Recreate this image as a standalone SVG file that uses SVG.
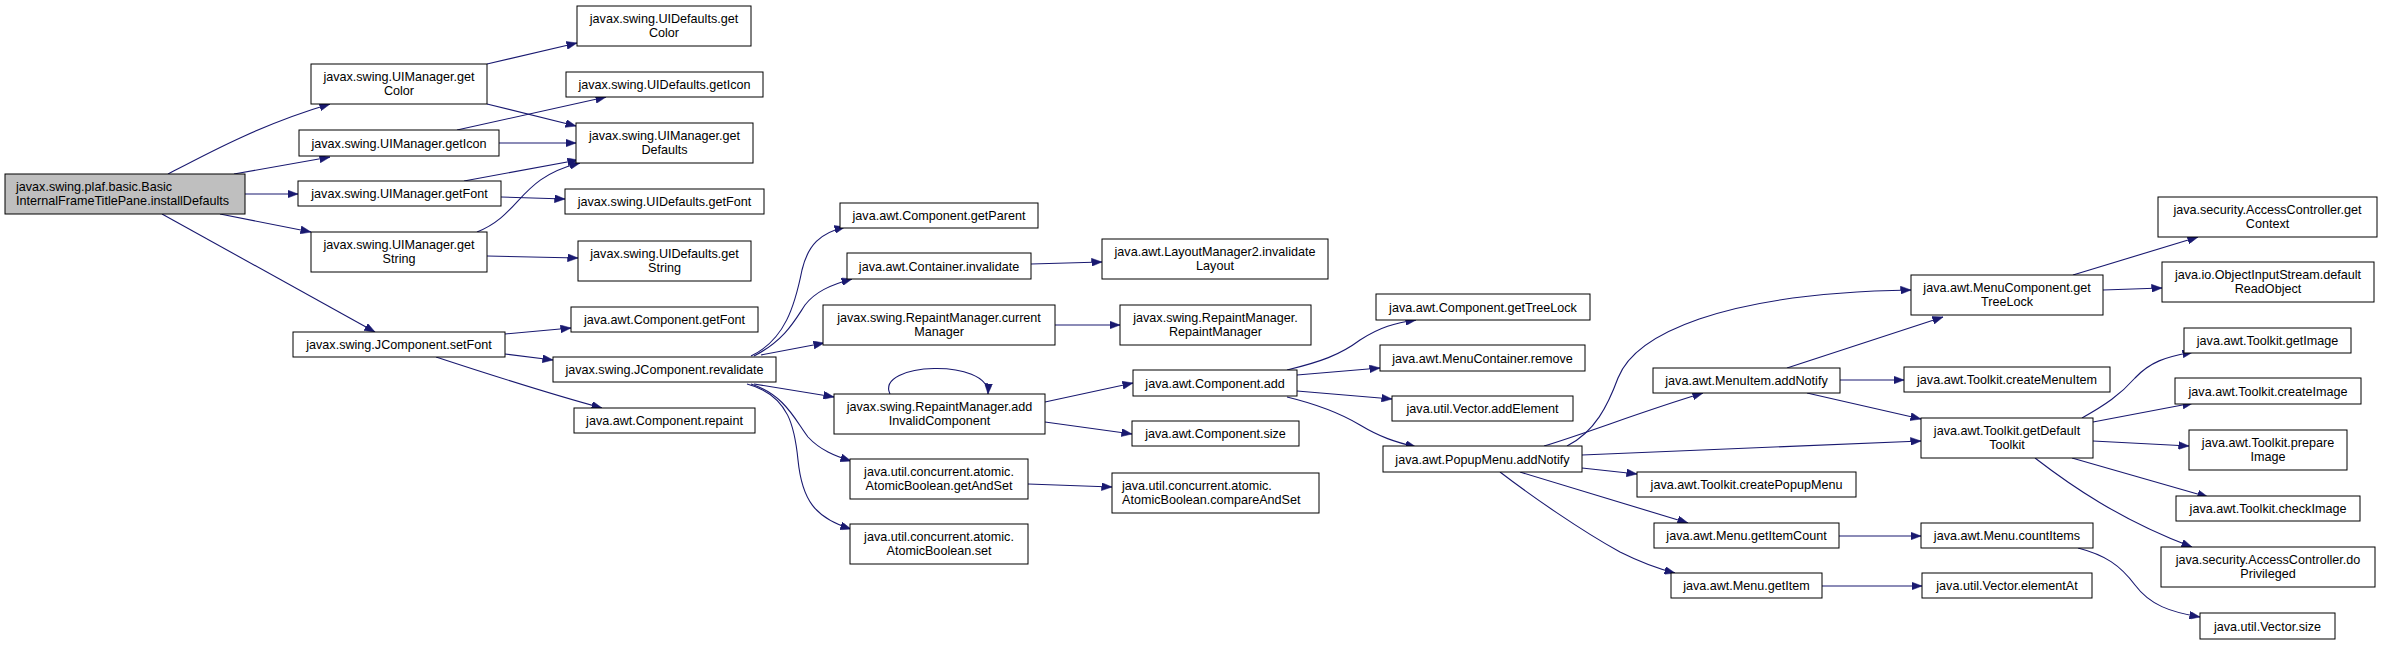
<svg xmlns="http://www.w3.org/2000/svg" width="2383" height="645" viewBox="0 0 2383 645">
<style>
  .n rect { fill: #ffffff; stroke: #000000; stroke-width: 1; }
  .root rect { fill: #bfbfbf; }
  text { font-family: "Liberation Sans", Arial, sans-serif; font-size: 12.6px; fill: #000000; }
  .c { text-anchor: middle; }
  .l { text-anchor: start; }
  #edges path { fill: none; stroke: #191970; stroke-width: 1.1; marker-end: url(#arr); }
</style>
<defs>
  <marker id="arr" markerUnits="userSpaceOnUse" markerWidth="11" markerHeight="8" refX="10.5" refY="4" orient="auto">
    <path d="M0,0 L10.5,4 L0,8 z" fill="#191970" stroke="#191970" stroke-width="0.5"/>
  </marker>
</defs>
<rect x="0" y="0" width="2383" height="645" fill="#ffffff"/>

<g id="edges">
  <path d="M168,174 C210,152 262,124 330,104"/>
  <path d="M234,174 L330,157"/>
  <path d="M245,194 L298,194"/>
  <path d="M220,214 L311,232"/>
  <path d="M162,214 L375,332"/>
  <path d="M487,64 L577,43"/>
  <path d="M487,104 L576,126"/>
  <path d="M457,130 L606,97"/>
  <path d="M499,143 L576,143"/>
  <path d="M464,181 L578,160"/>
  <path d="M501,197 L565,199"/>
  <path d="M477,232 C522,214 518,178 580,163"/>
  <path d="M487,256 L578,258"/>
  <path d="M505,334 L571,328"/>
  <path d="M505,354 L553,360"/>
  <path d="M436,357 C500,378 550,394 602,408"/>
  <path d="M751,356 C785,340 795,305 802,270 C808,245 820,233 845,227"/>
  <path d="M754,356 C785,340 795,320 805,305 C815,292 830,285 852,279"/>
  <path d="M761,355 L824,343"/>
  <path d="M754,384 L834,397"/>
  <path d="M751,384 C785,395 795,420 808,437 C820,450 835,456 851,461"/>
  <path d="M747,384 C790,395 795,430 798,460 C802,500 815,518 851,529"/>
  <path d="M1031,264 L1102,262"/>
  <path d="M1055,325 L1120,325"/>
  <path d="M890,394 C875,362 990,358 988,394"/>
  <path d="M1045,402 L1133,383"/>
  <path d="M1045,422 L1132,434"/>
  <path d="M1028,484 L1112,487"/>
  <path d="M1287,370 C1320,362 1340,355 1360,340 C1380,327 1395,323 1416,320"/>
  <path d="M1297,375 L1380,368"/>
  <path d="M1297,391 L1392,399"/>
  <path d="M1287,397 C1320,405 1340,413 1360,425 C1380,437 1395,442 1416,447"/>
  <path d="M1567,446 C1595,432 1608,405 1618,378 C1635,335 1720,293 1911,290"/>
  <path d="M1544,446 C1590,432 1640,412 1703,393"/>
  <path d="M1582,455 L1921,441"/>
  <path d="M1582,468 L1637,474"/>
  <path d="M1520,472 L1688,523"/>
  <path d="M1500,472 C1530,495 1580,530 1620,552 C1640,562 1655,568 1675,573"/>
  <path d="M1787,368 L1943,317"/>
  <path d="M1840,380 L1904,380"/>
  <path d="M1807,393 L1921,419"/>
  <path d="M2073,275 L2198,237"/>
  <path d="M2103,290 L2162,288"/>
  <path d="M2082,418 C2105,405 2120,395 2135,378 C2150,362 2165,357 2193,352"/>
  <path d="M2093,422 L2193,403"/>
  <path d="M2093,441 L2189,446"/>
  <path d="M2072,458 L2208,497"/>
  <path d="M2035,458 C2070,485 2120,520 2192,547"/>
  <path d="M2078,548 C2105,555 2120,565 2135,585 C2150,605 2170,612 2200,617"/>
  <path d="M1839,536 L1921,536"/>
  <path d="M1822,586 L1922,586"/>
</g>

<g id="n_root" class="n root"><rect x="5" y="174" width="240" height="40"/><text class="l" x="16" y="190.5">javax.swing.plaf.basic.Basic</text><text class="l" x="16" y="205">InternalFrameTitlePane.installDefaults</text></g>
<g id="n_uim_getColor" class="n"><rect x="311" y="64" width="176" height="40"/><text class="c" x="399" y="80.5">javax.swing.UIManager.get</text><text class="c" x="399" y="95">Color</text></g>
<g id="n_uim_getIcon" class="n"><rect x="299" y="130" width="200" height="26"/><text class="c" x="399" y="147.5">javax.swing.UIManager.getIcon</text></g>
<g id="n_uim_getFont" class="n"><rect x="298" y="181" width="203" height="25"/><text class="c" x="399.5" y="198">javax.swing.UIManager.getFont</text></g>
<g id="n_uim_getString" class="n"><rect x="311" y="232" width="176" height="40"/><text class="c" x="399" y="248.5">javax.swing.UIManager.get</text><text class="c" x="399" y="263">String</text></g>
<g id="n_jc_setFont" class="n"><rect x="293" y="332" width="212" height="25"/><text class="c" x="399" y="349">javax.swing.JComponent.setFont</text></g>
<g id="n_uid_getColor" class="n"><rect x="577" y="6" width="174" height="40"/><text class="c" x="664" y="22.5">javax.swing.UIDefaults.get</text><text class="c" x="664" y="37">Color</text></g>
<g id="n_uid_getIcon" class="n"><rect x="566" y="72" width="197" height="25"/><text class="c" x="664.5" y="89">javax.swing.UIDefaults.getIcon</text></g>
<g id="n_uim_getDefaults" class="n"><rect x="576" y="123" width="177" height="40"/><text class="c" x="664.5" y="139.5">javax.swing.UIManager.get</text><text class="c" x="664.5" y="154">Defaults</text></g>
<g id="n_uid_getFont" class="n"><rect x="565" y="189" width="199" height="25"/><text class="c" x="664.5" y="206">javax.swing.UIDefaults.getFont</text></g>
<g id="n_uid_getString" class="n"><rect x="578" y="241" width="173" height="40"/><text class="c" x="664.5" y="257.5">javax.swing.UIDefaults.get</text><text class="c" x="664.5" y="272">String</text></g>
<g id="n_c_getFont" class="n"><rect x="571" y="307" width="187" height="25"/><text class="c" x="664.5" y="324">java.awt.Component.getFont</text></g>
<g id="n_jc_revalidate" class="n"><rect x="553" y="357" width="223" height="25"/><text class="c" x="664.5" y="374">javax.swing.JComponent.revalidate</text></g>
<g id="n_c_repaint" class="n"><rect x="574" y="408" width="181" height="25"/><text class="c" x="664.5" y="425">java.awt.Component.repaint</text></g>
<g id="n_c_getParent" class="n"><rect x="840" y="203" width="198" height="25"/><text class="c" x="939" y="220">java.awt.Component.getParent</text></g>
<g id="n_cont_invalidate" class="n"><rect x="847" y="253" width="184" height="26"/><text class="c" x="939" y="270.5">java.awt.Container.invalidate</text></g>
<g id="n_rm_currentManager" class="n"><rect x="823" y="305" width="232" height="40"/><text class="c" x="939" y="321.5">javax.swing.RepaintManager.current</text><text class="c" x="939" y="336">Manager</text></g>
<g id="n_rm_addInvalid" class="n"><rect x="834" y="394" width="211" height="40"/><text class="c" x="939.5" y="410.5">javax.swing.RepaintManager.add</text><text class="c" x="939.5" y="425">InvalidComponent</text></g>
<g id="n_ab_getAndSet" class="n"><rect x="850" y="459" width="178" height="40"/><text class="c" x="939" y="475.5">java.util.concurrent.atomic.</text><text class="c" x="939" y="490">AtomicBoolean.getAndSet</text></g>
<g id="n_ab_set" class="n"><rect x="850" y="524" width="178" height="40"/><text class="c" x="939" y="540.5">java.util.concurrent.atomic.</text><text class="c" x="939" y="555">AtomicBoolean.set</text></g>
<g id="n_lm2_invalidateLayout" class="n"><rect x="1102" y="239" width="226" height="40"/><text class="c" x="1215" y="255.5">java.awt.LayoutManager2.invalidate</text><text class="c" x="1215" y="270">Layout</text></g>
<g id="n_rm_ctor" class="n"><rect x="1120" y="305" width="191" height="40"/><text class="c" x="1215.5" y="321.5">javax.swing.RepaintManager.</text><text class="c" x="1215.5" y="336">RepaintManager</text></g>
<g id="n_c_add" class="n"><rect x="1133" y="370" width="164" height="26"/><text class="c" x="1215" y="387.5">java.awt.Component.add</text></g>
<g id="n_c_size" class="n"><rect x="1132" y="421" width="167" height="25"/><text class="c" x="1215.5" y="438">java.awt.Component.size</text></g>
<g id="n_ab_compareAndSet" class="n"><rect x="1112" y="473" width="207" height="40"/><text class="l" x="1122" y="489.5">java.util.concurrent.atomic.</text><text class="l" x="1122" y="504">AtomicBoolean.compareAndSet</text></g>
<g id="n_c_getTreeLock" class="n"><rect x="1376" y="294" width="214" height="26"/><text class="c" x="1483" y="311.5">java.awt.Component.getTreeLock</text></g>
<g id="n_mc_remove" class="n"><rect x="1380" y="345" width="205" height="26"/><text class="c" x="1482.5" y="362.5">java.awt.MenuContainer.remove</text></g>
<g id="n_v_addElement" class="n"><rect x="1392" y="396" width="181" height="25"/><text class="c" x="1482.5" y="413">java.util.Vector.addElement</text></g>
<g id="n_pm_addNotify" class="n"><rect x="1383" y="446" width="199" height="26"/><text class="c" x="1482.5" y="463.5">java.awt.PopupMenu.addNotify</text></g>
<g id="n_mi_addNotify" class="n"><rect x="1653" y="368" width="187" height="25"/><text class="c" x="1746.5" y="385">java.awt.MenuItem.addNotify</text></g>
<g id="n_tk_createPopupMenu" class="n"><rect x="1637" y="472" width="219" height="25"/><text class="c" x="1746.5" y="489">java.awt.Toolkit.createPopupMenu</text></g>
<g id="n_m_getItemCount" class="n"><rect x="1654" y="523" width="185" height="25"/><text class="c" x="1746.5" y="540">java.awt.Menu.getItemCount</text></g>
<g id="n_m_getItem" class="n"><rect x="1671" y="573" width="151" height="25"/><text class="c" x="1746.5" y="590">java.awt.Menu.getItem</text></g>
<g id="n_mcomp_getTreeLock" class="n"><rect x="1911" y="275" width="192" height="40"/><text class="c" x="2007" y="291.5">java.awt.MenuComponent.get</text><text class="c" x="2007" y="306">TreeLock</text></g>
<g id="n_tk_createMenuItem" class="n"><rect x="1904" y="367" width="206" height="25"/><text class="c" x="2007" y="384">java.awt.Toolkit.createMenuItem</text></g>
<g id="n_tk_getDefaultToolkit" class="n"><rect x="1921" y="418" width="172" height="40"/><text class="c" x="2007" y="434.5">java.awt.Toolkit.getDefault</text><text class="c" x="2007" y="449">Toolkit</text></g>
<g id="n_m_countItems" class="n"><rect x="1921" y="523" width="172" height="25"/><text class="c" x="2007" y="540">java.awt.Menu.countItems</text></g>
<g id="n_v_elementAt" class="n"><rect x="1922" y="573" width="170" height="25"/><text class="c" x="2007" y="590">java.util.Vector.elementAt</text></g>
<g id="n_ac_getContext" class="n"><rect x="2158" y="197" width="219" height="40"/><text class="c" x="2267.5" y="213.5">java.security.AccessController.get</text><text class="c" x="2267.5" y="228">Context</text></g>
<g id="n_ois_defaultReadObject" class="n"><rect x="2162" y="262" width="212" height="40"/><text class="c" x="2268" y="278.5">java.io.ObjectInputStream.default</text><text class="c" x="2268" y="293">ReadObject</text></g>
<g id="n_tk_getImage" class="n"><rect x="2184" y="328" width="167" height="25"/><text class="c" x="2267.5" y="345">java.awt.Toolkit.getImage</text></g>
<g id="n_tk_createImage" class="n"><rect x="2175" y="378" width="186" height="26"/><text class="c" x="2268" y="395.5">java.awt.Toolkit.createImage</text></g>
<g id="n_tk_prepareImage" class="n"><rect x="2189" y="430" width="158" height="40"/><text class="c" x="2268" y="446.5">java.awt.Toolkit.prepare</text><text class="c" x="2268" y="461">Image</text></g>
<g id="n_tk_checkImage" class="n"><rect x="2176" y="496" width="184" height="25"/><text class="c" x="2268" y="513">java.awt.Toolkit.checkImage</text></g>
<g id="n_ac_doPrivileged" class="n"><rect x="2161" y="547" width="214" height="40"/><text class="c" x="2268" y="563.5">java.security.AccessController.do</text><text class="c" x="2268" y="578">Privileged</text></g>
<g id="n_v_size" class="n"><rect x="2200" y="613" width="135" height="26"/><text class="c" x="2267.5" y="630.5">java.util.Vector.size</text></g>
</svg>
